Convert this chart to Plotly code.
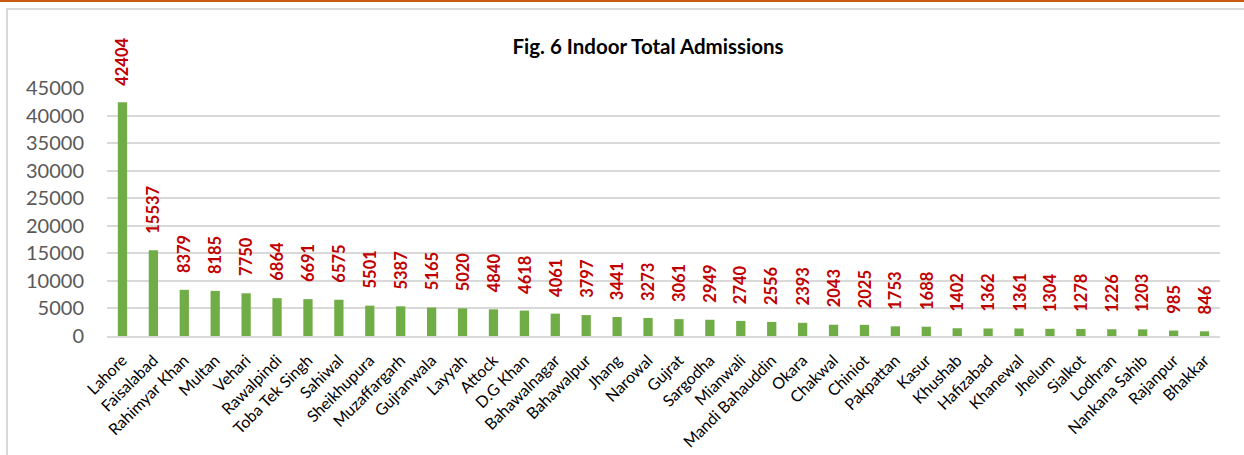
import plotly.graph_objects as go

districts = ["Lahore", "Faisalabad", "Rahimyar Khan", "Multan", "Vehari", "Rawalpindi",
             "Toba Tek Singh", "Sahiwal", "Sheikhupura", "Muzaffargarh", "Gujranwala",
             "Layyah", "Attock", "D.G Khan", "Bahawalnagar", "Bahawalpur", "Jhang",
             "Narowal", "Gujrat", "Sargodha", "Mianwali", "Mandi Bahauddin", "Okara",
             "Chakwal", "Chiniot", "Pakpattan", "Kasur", "Khushab", "Hafizabad",
             "Khanewal", "Jhelum", "Sialkot", "Lodhran", "Nankana Sahib", "Rajanpur", "Bhakkar"]
admissions = [42404, 15537, 8379, 8185, 7750, 6864, 6691, 6575, 5501, 5387, 5165, 5020,
              4840, 4618, 4061, 3797, 3441, 3273, 3061, 2949, 2740, 2556, 2393, 2043,
              2025, 1753, 1688, 1402, 1362, 1361, 1304, 1278, 1226, 1203, 985, 846]
y_ticks = [0, 5000, 10000, 15000, 20000, 25000, 30000, 35000, 40000, 45000]

FONT = "Lato"
W, H = 1244, 455
L, R, T, B = 107, 24, 88, 119
pw, ph = W - L - R, H - T - B

def px_x(px):
    return (px - L) / pw

def px_y(py):
    return (H - B - py) / ph

fig = go.Figure(go.Bar(
    x=districts, y=admissions,
    marker=dict(color="#70AD47", line=dict(width=0)),
    cliponaxis=False,
))

for d, v in zip(districts, admissions):
    fig.add_annotation(
        x=d, y=v, xref="x", yref="y", text=str(v), showarrow=False,
        textangle=-90, xanchor="center", yanchor="bottom", yshift=15,
        font=dict(family=FONT, size=16.5, color="#C00000", weight="bold"),
    )

fig.update_layout(
    width=W, height=H,
    margin=dict(l=L, r=R, t=T, b=B, autoexpand=False),
    paper_bgcolor="white", plot_bgcolor="white",
    bargap=0.7,
    showlegend=False,
    title=dict(text="<b>Fig. 6 Indoor Total Admissions</b>",
               font=dict(family=FONT, size=20.5, color="black"),
               x=648 / W, xanchor="center", y=1 - 47 / H, yanchor="middle",
               xref="container", yref="container"),
    xaxis=dict(tickangle=-45, tickfont=dict(family=FONT, size=16, color="black"),
               showgrid=False, showline=True, linecolor="#D9D9D9", linewidth=1.5,
               ticks="", ticklabelstandoff=7, automargin=False),
    yaxis=dict(range=[0, 45000], tickvals=y_ticks, ticktext=[str(v) for v in y_ticks],
               tickfont=dict(family=FONT, size=20, color="#595959"),
               showgrid=True, gridcolor="#D9D9D9", gridwidth=1.5,
               zeroline=False, showline=False, ticks="", ticklabelstandoff=22,
               automargin=False),
    shapes=[
        dict(type="rect", xref="paper", yref="paper",
             x0=px_x(7), x1=px_x(W + 10), y0=px_y(9), y1=px_y(H + 10),
             line=dict(color="#D9D9D9", width=2), fillcolor="rgba(0,0,0,0)", layer="below"),
        dict(type="line", xref="paper", yref="paper",
             x0=px_x(-5), x1=px_x(W + 5), y0=px_y(1), y1=px_y(1),
             line=dict(color="#C55A11", width=2)),
    ],
)

fig.write_html(
    "out.html",
    config={"displayModeBar": False},
    post_script="document.body.style.margin='0';document.body.style.overflow='hidden';",
)
